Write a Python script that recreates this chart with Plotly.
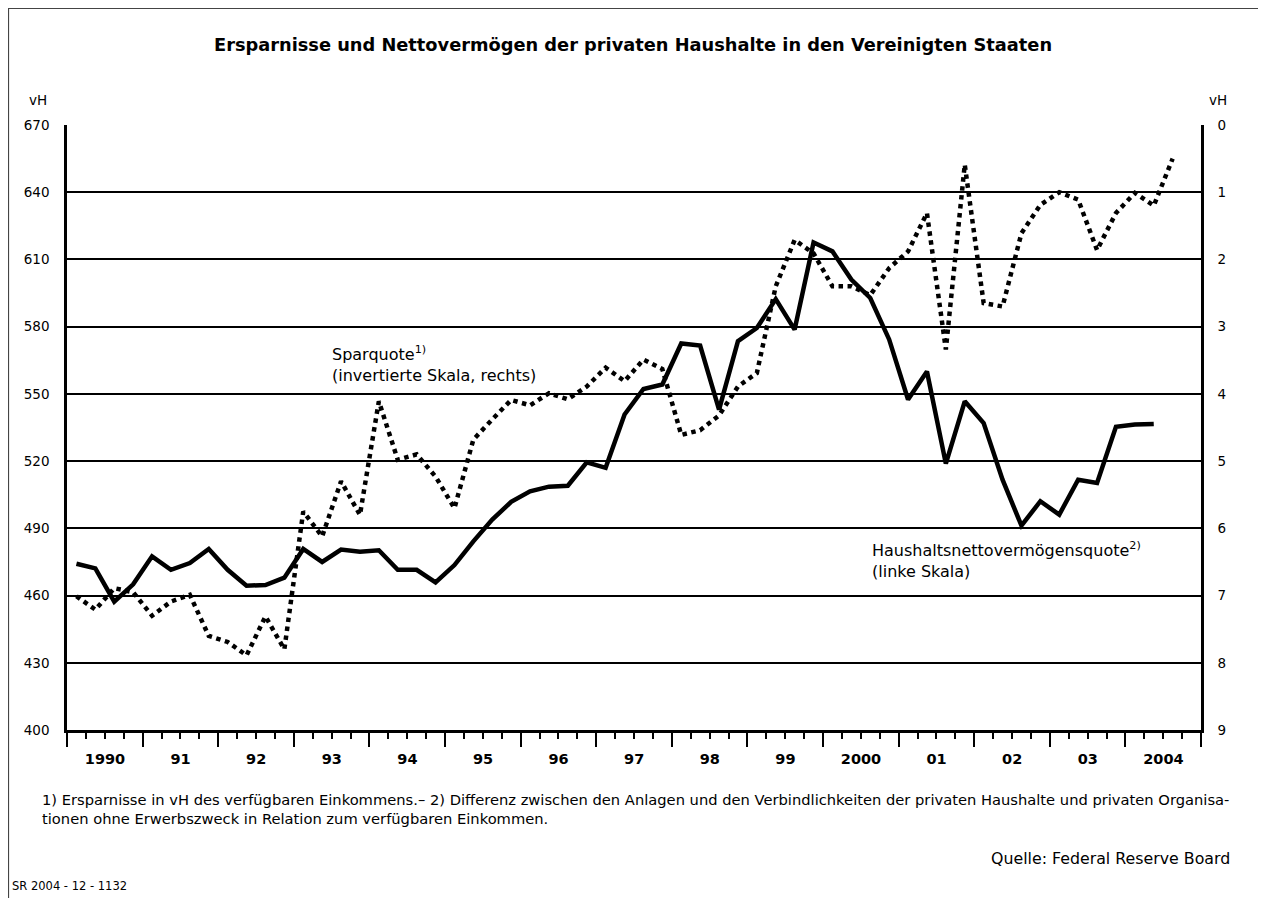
import plotly.graph_objects as go

# Quarterly periods 1990Q1 .. 2004Q3
quarters = [f"{y}Q{q}" for y in range(1990, 2005) for q in range(1, 5)][:59]

# Haushaltsnettovermögensquote (vH, linke Skala), 1990Q1 .. 2004Q2
net_worth = [474.2, 472.1, 457.3, 465.0, 477.5, 471.5, 474.5, 480.8,
             471.5, 464.4, 464.7, 468.0, 480.8, 475.0, 480.5, 479.6,
             480.2, 471.5, 471.5, 465.9, 473.6, 484.2, 493.9, 501.8,
             506.5, 508.6, 509.0, 519.5, 517.0, 540.8, 552.2, 554.2,
             572.5, 571.6, 543.0, 573.5, 579.4, 592.3, 578.7, 617.6,
             613.6, 601.0, 592.8, 574.3, 547.5, 560.0, 518.9, 546.7,
             537.0, 511.7, 491.2, 502.1, 496.1, 511.7, 510.2, 535.3,
             536.3, 536.6]

# Sparquote (vH, invertierte rechte Skala), 1990Q1 .. 2004Q3
saving_rate = [7.01, 7.21, 6.89, 6.95, 7.30, 7.09, 6.99, 7.60,
               7.69, 7.89, 7.31, 7.80, 5.75, 6.12, 5.30, 5.80,
               4.11, 4.98, 4.90, 5.23, 5.70, 4.68, 4.38, 4.09,
               4.17, 3.99, 4.08, 3.89, 3.61, 3.81, 3.49, 3.63,
               4.61, 4.54, 4.32, 3.89, 3.69, 2.40, 1.71, 1.91,
               2.40, 2.40, 2.53, 2.13, 1.88, 1.31, 3.34, 0.59,
               2.65, 2.70, 1.61, 1.19, 1.00, 1.11, 1.86, 1.31,
               1.01, 1.20, 0.50]

years = list(range(1990, 2006))
year_labels = ["1990", "91", "92", "93", "94", "95", "96", "97", "98", "99",
               "2000", "01", "02", "03", "2004", ""]
left_ticks = list(range(400, 671, 30))
right_ticks = list(range(0, 10))


def q_pos(label):
    y, q = label.split("Q")
    return int(y) + (int(q) - 0.5) / 4


x_all = [q_pos(q) for q in quarters]

FONT = "DejaVu Sans, Verdana, sans-serif"

fig = go.Figure()
fig.add_trace(go.Scatter(
    x=x_all[:len(saving_rate)], y=saving_rate, yaxis="y2", mode="lines",
    line=dict(color="black", width=4.5, dash="dot"),
    name="Sparquote", showlegend=False, hoverinfo="skip"))
fig.add_trace(go.Scatter(
    x=x_all[:len(net_worth)], y=net_worth, mode="lines",
    line=dict(color="black", width=4.5),
    name="Haushaltsnettovermögensquote", showlegend=False, hoverinfo="skip"))

# page body has an 8px margin; lay the figure out in screen coordinates
OX, OY = 8, 8
W, H = 1266 - OX, 898 - OY
PX0, PX1, PY0, PY1 = 67, 1201, 125, 730          # plot area on screen
L, R = PX0 - OX, W - (PX1 - OX)
T, B = PY0 - OY, H - (PY1 - OY)
PW, PH = PX1 - PX0, PY1 - PY0
year_px = PW / 15


def px(sx):
    return (sx - PX0) / PW


def py(sy):
    return (PY1 - sy) / PH


fig.update_layout(
    width=W, height=H,
    margin=dict(l=L, r=R, t=T, b=B),
    paper_bgcolor="white", plot_bgcolor="white",
    font=dict(family=FONT, color="black", size=13),
    xaxis=dict(
        range=[1990, 2005], tickmode="array", tickvals=years, ticktext=year_labels,
        ticks="outside", ticklen=14, tickwidth=1.5, tickcolor="black",
        ticklabelshift=int(round(year_px / 2)),
        tickfont=dict(size=14.5, family=FONT, color="black", weight="bold"),
        minor=dict(tickmode="linear", tick0=1990, dtick=0.25, ticks="outside",
                   ticklen=6, tickwidth=1.5, tickcolor="black", showgrid=False),
        showgrid=False, zeroline=False,
        showline=True, linecolor="black", linewidth=2.5, mirror=False,
    ),
    yaxis=dict(
        range=[400, 670], tickmode="array", tickvals=left_ticks,
        ticks="outside", ticklen=12, tickcolor="rgba(0,0,0,0)",
        tickfont=dict(size=13.5, family=FONT, color="black"),
        showgrid=True, gridcolor="black", gridwidth=2.2,
        zeroline=False, showline=True, linecolor="black", linewidth=2.5,
    ),
    yaxis2=dict(
        range=[9, 0], overlaying="y", side="right", tickmode="array",
        tickvals=right_ticks,
        ticks="outside", ticklen=11, tickcolor="rgba(0,0,0,0)",
        tickfont=dict(size=13.5, family=FONT, color="black"),
        showgrid=False, zeroline=False, showline=True,
        linecolor="black", linewidth=2.5,
    ),
)

annotations = [
    dict(text="<b>Ersparnisse und Nettovermögen der privaten Haushalte in den Vereinigten Staaten</b>",
         x=633, y=44, font=dict(size=17.8)),
    dict(text="vH", x=38, y=100, font=dict(size=13.5)),
    dict(text="vH", x=1218, y=100, font=dict(size=13.5)),
    dict(text="Sparquote<sup>1)</sup><br>(invertierte Skala, rechts)",
         x=330, y=364, xanchor="left", align="left", font=dict(size=16)),
    dict(text="Haushaltsnettovermögensquote<sup>2)</sup><br>(linke Skala)",
         x=870, y=560, xanchor="left", align="left", font=dict(size=16)),
    dict(text="1) Ersparnisse in vH des verfügbaren Einkommens.– 2) Differenz zwischen den Anlagen und den Verbindlichkeiten der privaten Haushalte und privaten Organisa-<br>"
              "tionen ohne Erwerbszweck in Relation zum verfügbaren Einkommen.",
         x=40, y=809, xanchor="left", align="left", font=dict(size=14.7)),
    dict(text="Quelle: Federal Reserve Board", x=1232, y=858,
         xanchor="right", font=dict(size=15.8)),
    dict(text="SR 2004 - 12 - 1132", x=10, y=886, xanchor="left",
         font=dict(size=11.5)),
]
for a in annotations:
    a.setdefault("xanchor", "center")
    a.update(xref="paper", yref="paper", yanchor="middle", showarrow=False,
             x=px(a["x"]), y=py(a["y"]))
fig.update_layout(annotations=annotations)

# outer frame of the figure
fig.add_shape(type="rect", xref="paper", yref="paper",
              x0=px(8.5), x1=px(1261.5), y0=py(910), y1=py(8.5),
              line=dict(color="#444444", width=1.2), layer="below")

fig.write_html("out.html")
